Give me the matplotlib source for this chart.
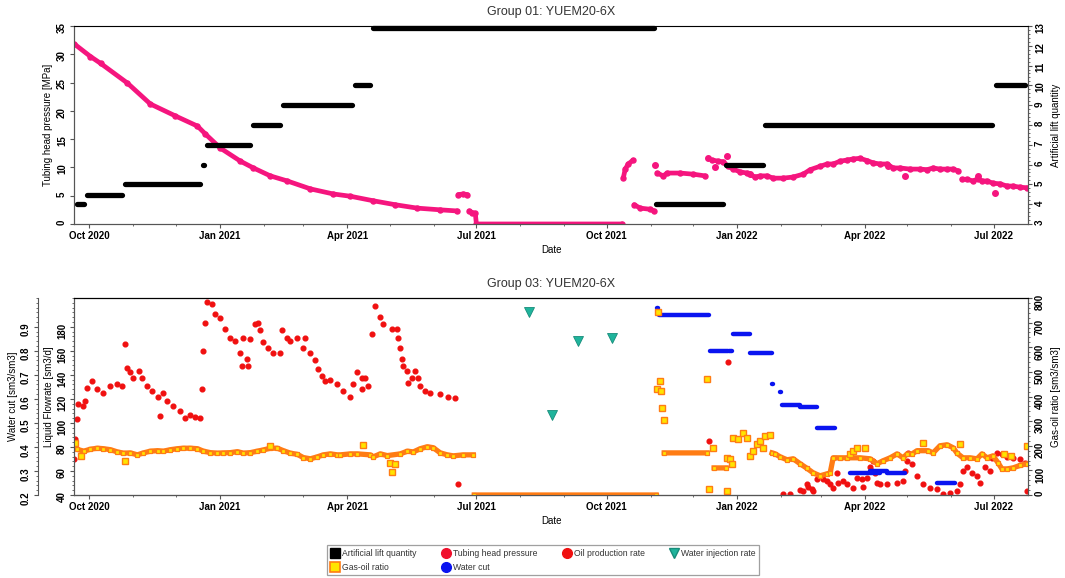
import numpy as np
import pandas as pd
import matplotlib
matplotlib.use('Agg')
import matplotlib.pyplot as plt
import matplotlib.dates as mdates
from matplotlib.lines import Line2D
from matplotlib.ticker import MultipleLocator

plt.rcParams['font.family'] = ['Liberation Sans', 'DejaVu Sans']
plt.rcParams['font.weight'] = 'bold'

START = pd.Timestamp('2020-10-01')
nan = np.nan

# ---------------- Group 01 ----------------
# tubing head pressure [MPa], x = days after 1 Oct 2020, nan = gap in the record
thp_days = [-10.6, 0.7, 7.8, 26.8, 43.0, 60.6, 76.2, 81.8, 92.4, 106.5,
            115.7, 127.6, 139.6, 155.9, 172.1, 184.1, 200.3, 215.8, 231.3, 247.5,
            259.5, 259.8, 260.2, 263.7, 266.6, 267.3, 268.0, 270.1, 272.2, 273.0,
            376.0, 376.3, 376.6, 378.0, 380.1, 383.6, 383.9, 384.3, 388.6, 395.6,
            398.4, 398.8, 400.6, 404.8, 407.6, 416.8, 425.9, 434.4, 436.0, 439.3,
            443.6, 447.1, 450.6, 454.1, 459.1, 464.0, 469.7, 473.2, 478.1, 482.4,
            489.4, 496.5, 503.5, 508.5, 515.5, 520.4, 524.7, 529.6, 534.5, 538.8,
            543.7, 548.7, 552.9, 557.8, 562.8, 567.0, 571.9, 579.0, 586.0, 591.0,
            595.2, 600.1, 605.1, 609.3, 612.8, 614.0, 615.6, 619.2, 623.4, 626.9,
            629.7, 633.3, 637.5, 642.4, 647.4, 651.6, 656.5, 661.5]
thp_vals = [31.8, 29.6, 28.4, 24.9, 21.2, 19.1, 17.3, 15.9, 13.4, 11.1,
            9.9, 8.5, 7.6, 6.2, 5.3, 4.9, 4.1, 3.4, 2.8, 2.5,
            2.3, nan, 5.2, 5.3, 5.2, nan, 2.3, 2.0, 1.9, 0.0,
            0.0, nan, 8.1, 9.7, 10.6, 11.3, nan, 3.4, 2.8, 2.6,
            2.3, nan, 9.0, 8.5, 9.0, 9.0, 8.8, 8.5, nan, 11.3,
            11.1, 11.0, 10.2, 9.7, 9.2, 9.0, 8.3, 8.5, 8.5, 8.1,
            8.1, 8.3, 8.8, 9.6, 10.2, 10.6, 10.6, 11.1, 11.3, 11.5,
            11.6, 11.2, 10.8, 10.6, 10.6, 9.9, 9.9, 9.7, 9.7, 9.6,
            9.9, 9.7, 9.7, 9.7, 9.4, nan, 7.9, 7.9, 7.6, 8.0,
            7.6, 7.6, 7.2, 7.1, 6.7, 6.7, 6.5, 6.4]
thp_out_days = [399.1, 436.5, 441.0, 449.9, 466.1, 563.5, 575.4, 626.9, 638.9]
thp_out_vals = [10.4, 11.7, 10.1, 12.0, 8.8, 10.2, 8.5, 8.5, 5.5]

# artificial lift quantity: start day, end day, value
lift_start = [-9.6, -8.8, -1.7, 25.1, 80.1, 82.9, 115.3, 136.5, 187.3, 200.0, 399.5, 448.9, 476.4, 639.3]
lift_end = [-9.4, -3.9, 22.9, 77.9, 80.7, 113.1, 134.3, 185.1, 197.8, 398.0, 446.7, 474.9, 637.1, 660.2]
lift_vals = [3.5, 4.0, 4.46, 5.0, 6.0, 7.0, 8.0, 9.0, 10.0, 12.9, 4.0, 6.0, 8.0, 10.0]

# ---------------- Group 03 ----------------
# oil production rate [sm3/d]
oil_days = [-10.6, -9.9, -8.5, -7.8, -4.9, -2.8, -1.4, 2.1, 5.6, 9.9,
            14.8, 19.7, 23.3, 25.4, 26.8, 28.9, 31.0, 34.6, 37.4, 40.9,
            44.4, 48.0, 50.1, 52.2, 55.0, 59.2, 64.2, 67.7, 71.2, 74.8,
            78.3, 79.7, 80.4, 81.8, 83.2, 86.7, 88.9, 92.4, 95.9, 99.4,
            103.0, 106.5, 107.9, 108.6, 111.4, 112.1, 113.5, 117.1, 119.2, 120.6,
            122.7, 126.2, 129.8, 134.7, 136.1, 139.6, 141.7, 146.7, 150.9, 152.3,
            155.9, 159.4, 161.5, 164.3, 166.5, 170.0, 174.9, 179.1, 184.1, 186.2,
            189.0, 192.5, 192.6, 194.6, 196.7, 199.6, 201.7, 205.2, 207.3, 213.7,
            217.2, 217.9, 219.3, 220.7, 221.4, 224.3, 225.0, 227.8, 229.9, 232.0,
            233.4, 236.9, 240.5, 247.5, 253.2, 258.1, 260.2,
            437.2, 450.6, 489.4, 494.3, 501.4, 503.5, 506.3, 507.0, 509.9, 510.6,
            513.4, 517.6, 520.4, 522.6, 524.7, 527.5, 528.2, 531.7, 534.5, 538.8,
            541.6, 545.1, 545.8, 548.7, 550.8, 552.2, 552.9, 554.3, 555.7, 557.8,
            562.8, 569.8, 574.0, 575.4, 576.9, 577.6, 580.4, 583.9, 588.1, 593.1,
            598.1, 602.3, 607.2, 612.1, 614.2, 616.3, 619.2, 622.7, 626.2, 628.3,
            631.9, 635.4, 636.8, 640.3, 643.8, 647.4, 651.6, 656.5, 660.1, 661.5]
oil_vals = [70, 87, 103, 116, 114, 118, 129, 135, 128, 125,
            131, 132, 131, 166, 146, 142, 137, 143, 137, 131,
            127, 122, 106, 125, 118, 114, 110, 104, 107, 105,
            104, 128, 160, 183, 201, 199, 191, 187, 178, 171,
            168, 158, 147, 171, 153, 147, 170, 182, 183, 177,
            167, 162, 158, 158, 177, 171, 168, 171, 162, 171,
            158, 152, 145, 139, 135, 136, 132, 127, 122, 132,
            142, 137, 128, 137, 131, 174, 197, 188, 182, 178,
            178, 171, 162, 153, 147, 143, 133, 137, 143, 137,
            131, 127, 125, 124, 122, 121, 49,
            85, 151, 41, 41, 44, 43, 49, 47, 45, 43,
            53, 53, 52, 49, 46, 58, 50, 52, 49, 46,
            54, 53, 47, 54, 63, 60, 68, 58, 50, 49,
            49, 50, 52, 60, 68, 75, 66, 56, 49, 46,
            45, 41, 42, 43, 49, 60, 63, 58, 56, 50,
            63, 60, 71, 75, 74, 72, 71, 70, 67, 43]

# gas-oil ratio [sm3/sm3], main trace and scattered readings
gor_days = [-9.9, -8.5, -4.0, 0.7, 5.6, 9.9, 14.8, 19.7, 24.0, 28.9,
            33.8, 38.1, 43.0, 48.0, 52.2, 57.1, 62.1, 66.3, 71.2, 76.2,
            80.4, 85.3, 90.3, 94.5, 99.4, 104.4, 108.6, 113.5, 118.5, 122.7,
            127.6, 132.6, 136.8, 141.7, 146.7, 150.9, 155.9, 160.8, 165.0, 170.0,
            174.9, 177.0, 184.1, 189.0, 198.2, 200.3, 205.2, 210.1, 219.3, 224.3,
            228.5, 233.4, 238.4, 242.6, 247.5, 252.5, 256.7, 263.7, 270.8, 271.2,
            271.5, 399.8, 400.2, 405.5, 435.8, 436.2, 440.7, 449.2, 449.6,
            481.6, 483.8, 487.3, 492.2, 496.5, 501.4, 506.3, 510.6, 515.5, 520.4,
            522.6, 524.7, 529.6, 534.5, 543.7, 550.8, 555.7, 559.9, 564.9, 569.8,
            574.0, 576.9, 580.4, 583.9, 591.7, 595.2, 600.1, 605.1, 609.3, 612.1,
            616.3, 621.3, 626.2, 629.7, 633.3, 637.5, 641.0, 643.8, 647.4, 651.6,
            656.5, 661.5]
gor_vals = [195, 185, 178, 186, 190, 188, 184, 175, 170, 171,
            163, 171, 178, 180, 178, 184, 188, 190, 190, 188,
            178, 172, 170, 171, 172, 176, 170, 172, 178, 183,
            190, 190, 180, 170, 165, 152, 147, 155, 163, 167,
            163, 163, 167, 167, 163, 155, 167, 160, 167, 178,
            175, 188, 196, 192, 171, 163, 159, 163, 163, nan,
            0, 0, nan, 171, 171, nan, 110, 110, nan,
            171, 167, 155, 143, 147, 127, 108, 90, 78, 86,
            90, 151, 151, 151, 151, 147, 127, 139, 151, 167,
            151, 167, 167, 180, 180, 171, 200, 204, 192, 170,
            151, 151, 147, 167, 151, 159, 131, 106, 106, 110,
            120, 127]
gor_out_days = [-9.9, -6.3, 25.4, 127.6, 193.2, 212.3, 213.7, 215.8,
                400.6, 401.3, 402.7, 403.4, 404.1, 405.5, 435.8, 437.2, 440.0, 449.9,
                449.9, 452.0, 453.4, 454.1, 457.7, 461.2, 464.0, 466.1, 468.3, 471.1,
                473.2, 475.3, 476.7, 480.2, 536.6, 538.8, 541.6, 547.2, 588.1, 614.2,
                645.0, 650.0, 661.5]
gor_out_vals = [212, 160, 139, 200, 204, 131, 94, 127,
                429, 743, 465, 424, 355, 306, 473, 24, 192, 16,
                151, 147, 127, 233, 229, 253, 233, 159, 180, 208,
                220, 192, 241, 245, 167, 180, 192, 192, 212, 208,
                165, 160, 200]

# water cut [sm3/sm3]: start day, end day, value
wc_start = [400.3, 402.0, 437.9, 451.5, 454.1, 466.1, 481.6, 484.8, 487.0, 488.7,
            501.4, 513.4, 524.7, 536.6, 550.8, 562.8, 598.1]
wc_end = [400.9, 437.2, 450.6, 453.0, 466.1, 481.6, 482.2, 485.4, 487.6, 501.4,
          513.4, 526.1, 527.5, 557.8, 562.8, 575.4, 610.7]
wc_vals = [0.98, 0.95, 0.80, 0.80, 0.87, 0.79, 0.66, 0.64, 0.63, 0.575,
           0.565, 0.48, 0.355, 0.29, 0.30, 0.29, 0.25]

# water injection rate
wi_days = [310.3, 326.5, 344.8, 368.8]
wi_vals = [192, 107, 168, 171]

THP_C = '#F5157E'
OIL_C = '#F01010'
GOR_EDGE = '#FF7C14'
GOR_FACE = '#FFE400'
WC_C = '#0A14F0'
WI_C = '#1FB49C'
AX_C = '#555555'


def to_dates(days):
    return START + pd.to_timedelta(np.asarray(days, dtype=float), unit='D')


fig = plt.figure(figsize=(10.65, 5.78), dpi=100)
ax1 = fig.add_axes([0.0695, 0.6125, 0.8958, 0.3426])
ax2 = fig.add_axes([0.0695, 0.1436, 0.8958, 0.3408])

# ---- top panel ----
ax1.plot(to_dates(thp_days), thp_vals, color=THP_C, lw=3.4, marker='o', ms=3.6,
         solid_capstyle='round')
ax1.plot(to_dates(thp_out_days), thp_out_vals, ls='none', marker='o', ms=4, color=THP_C)
ax1.set_ylim(0, 35)
ax1.yaxis.set_major_locator(MultipleLocator(5))
ax1.set_ylabel('Tubing head pressure [MPa]', fontsize=7, labelpad=3)
ax1.set_title('Group 01: YUEM20-6X', fontsize=9, fontweight='normal', color='#333333', pad=8)

ax1r = ax1.twinx()
for s, e, v in zip(lift_start, lift_end, lift_vals):
    ax1r.plot(to_dates([s, e]), [v, v], color='black', lw=3.8,
              solid_capstyle='round', clip_on=False)
ax1r.set_ylim(3, 13)
ax1r.yaxis.set_major_locator(MultipleLocator(1))
ax1r.yaxis.set_minor_locator(MultipleLocator(0.2))
ax1r.set_ylabel('Artificial lift quantity', fontsize=7, labelpad=4)

# ---- bottom panel ----
ax2.plot(to_dates(oil_days), oil_vals, ls='none', marker='o', ms=3.4, color=OIL_C)
ax2.plot(to_dates(wi_days), wi_vals, ls='none', marker='v', ms=6.5, mfc=WI_C, mec='#178C7A', mew=0.6)
ax2.set_ylim(40, 204)
ax2.set_yticks([40, 60, 80, 100, 120, 140, 160, 180])
ax2.yaxis.set_minor_locator(MultipleLocator(4))
ax2.set_ylabel('Liquid Flowrate [sm3/d]', fontsize=7, labelpad=2)
ax2.set_title('Group 03: YUEM20-6X', fontsize=9, fontweight='normal', color='#333333', pad=8)

ax2w = ax2.twinx()
ax2w.spines['left'].set_position(('outward', 26))
ax2w.spines['left'].set_visible(True)
ax2w.spines['right'].set_visible(False)
ax2w.yaxis.set_ticks_position('left')
ax2w.yaxis.set_label_position('left')
for s, e, v in zip(wc_start, wc_end, wc_vals):
    ax2w.plot(to_dates([s, e]), [v, v], color=WC_C, lw=3.2, solid_capstyle='round')
ax2w.set_ylim(0.2, 1.02)
ax2w.set_yticks([0.2, 0.3, 0.4, 0.5, 0.6, 0.7, 0.8, 0.9])
ax2w.yaxis.set_minor_locator(MultipleLocator(0.02))
ax2w.set_ylabel('Water cut [sm3/sm3]', fontsize=7, labelpad=2)

ax2g = ax2.twinx()
ax2g.plot(to_dates(gor_days), gor_vals, color=GOR_EDGE, lw=3.8, marker='s', ms=3.0,
          mfc=GOR_FACE, mec=GOR_EDGE, mew=0.9)
ax2g.plot(to_dates(gor_out_days), gor_out_vals, ls='none', marker='s', ms=4.2,
          mfc=GOR_FACE, mec=GOR_EDGE, mew=1.0)
ax2g.set_ylim(0, 800)
ax2g.yaxis.set_major_locator(MultipleLocator(100))
ax2g.yaxis.set_minor_locator(MultipleLocator(20))
ax2g.set_ylabel('Gas-oil ratio [sm3/sm3]', fontsize=7, labelpad=4)

# ---- shared axis styling ----
x0 = START + pd.Timedelta(days=-10.9)
x1 = START + pd.Timedelta(days=662.2)
for ax in (ax1, ax2):
    ax.set_xlim(x0, x1)
    ax.xaxis.set_major_locator(mdates.MonthLocator(bymonth=[1, 4, 7, 10]))
    ax.xaxis.set_minor_locator(mdates.MonthLocator())
    ax.xaxis.set_major_formatter(mdates.DateFormatter('%b %Y'))
    ax.set_xlabel('Date', fontsize=7, labelpad=3)
    ax.spines['top'].set_color('#e6e6e6')

for ax in (ax1, ax1r, ax2, ax2w, ax2g):
    ax.tick_params(axis='both', which='major', labelsize=7, length=3, color=AX_C, pad=2)
    ax.tick_params(axis='both', which='minor', length=1.6, color=AX_C)
    ax.tick_params(axis='y', labelrotation=90)
    for side in ('left', 'right', 'bottom'):
        ax.spines[side].set_color(AX_C)

# ---- legend ----
handles = [
    Line2D([], [], ls='none', marker='s', ms=6.5, mfc='black', mec='black'),
    Line2D([], [], ls='none', marker='s', ms=6.5, mfc=GOR_FACE, mec=GOR_EDGE, mew=1.2),
    Line2D([], [], ls='none', marker='o', ms=7, mfc='#F0102C', mec='#F0102C'),
    Line2D([], [], ls='none', marker='o', ms=7, mfc=WC_C, mec=WC_C),
    Line2D([], [], ls='none', marker='o', ms=7, mfc=OIL_C, mec=OIL_C),
    Line2D([], [], ls='none', marker='v', ms=7, mfc=WI_C, mec='#178C7A'),
]
labels = ['Artificial lift quantity', 'Gas-oil ratio', 'Tubing head pressure',
          'Water cut', 'Oil production rate', 'Water injection rate']
leg = fig.legend(handles, labels, ncol=4, loc='center', bbox_to_anchor=(0.510, 0.0305),
                 prop={'size': 6.2, 'weight': 'normal'}, labelcolor='#333333',
                 frameon=True, fancybox=False, edgecolor='#888888',
                 handlelength=1.0, handletextpad=0.3, columnspacing=2.9,
                 borderpad=0.45, labelspacing=0.5)
leg.get_frame().set_linewidth(0.9)

fig.savefig('out.png', dpi=100)
